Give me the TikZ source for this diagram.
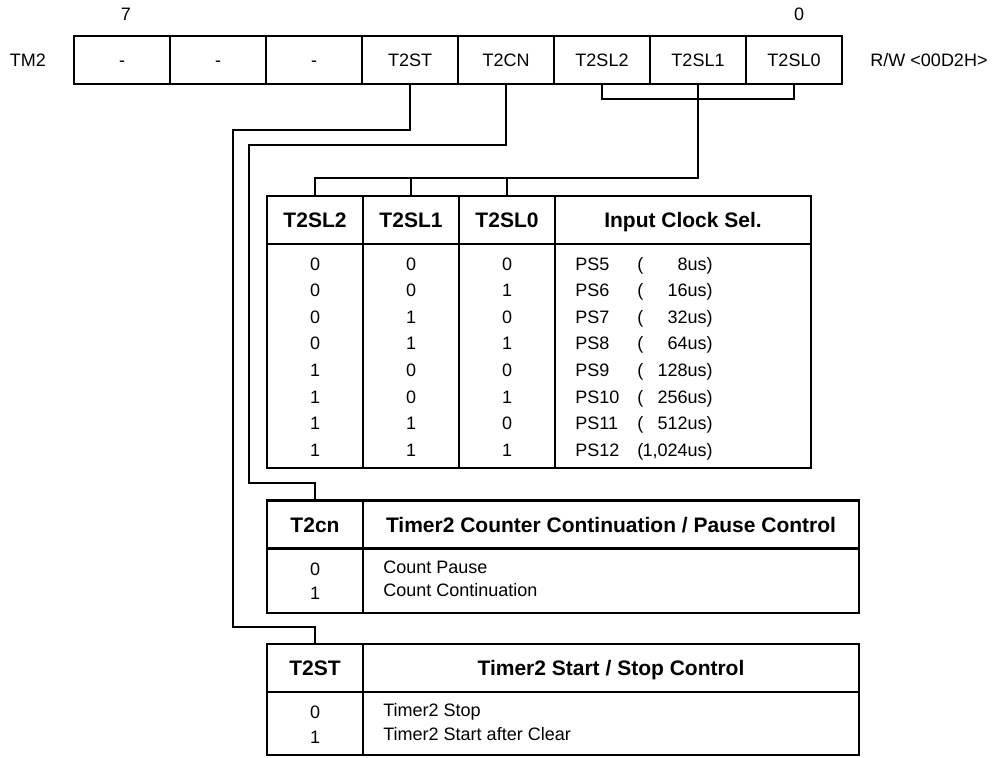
\documentclass[tikz,border=0pt]{standalone}
\usepackage{fontspec}
\setmainfont{Liberation Sans}
\usepackage{tikz}
\tikzset{
  cella/.style={draw, line width=1pt, minimum width=48pt, minimum height=24pt,
    inner sep=0pt, text height=6.4pt, text depth=0pt, font=\fontsize{9}{11}\selectfont},
  testa/.style={draw, line width=1.3pt, minimum height=24pt, inner sep=0pt,
    text height=7.5pt, text depth=0pt, font=\fontsize{10.5}{12}\selectfont\bfseries},
  corpo/.style={draw, line width=1.3pt, inner sep=0pt},
  voce/.style={inner sep=0pt, font=\fontsize{9}{11}\selectfont},
  filo/.style={line width=1pt}
}

\begin{document}
\begin{tikzpicture}[x=0.5pt, y=-0.5pt]
        \useasboundingbox (0,0) rectangle (994,757);
        \def\w{96}
        % Registro TM2
        \foreach \t [count=\i from 0] in {-,-,-,T2ST,T2CN,T2SL2,T2SL1,T2SL0}
        \node[cella] (r\i) at (122+\w*\i,60) {\t};
        \node[voce] (bit7) at (126,14) {7};
        \node[voce] (bit0) at (799,14) {0};
        \node[voce] (nome) at (28,60) {TM2};
        \node[voce] (indir) at (929,60) {R/W <00D2H>};
        % Tabella selezione clock
        \foreach \t [count=\i] in {T2SL2,T2SL1,T2SL0} {
          \node[testa, minimum width=48pt] (ha\i) at (219+\w*\i,220) {\t};
          \node[corpo, minimum width=48pt, minimum height=112pt] (ca\i) at (219+\w*\i,356) {};
        }
        \node[testa, minimum width=128pt] (ha4) at (683,220) {Input Clock Sel.};
        \node[corpo, minimum width=128pt, minimum height=112pt] (ca4) at (683,356) {};
        \foreach \p/\q/\s/\ps/\t [count=\r from 0] in {0/0/0/PS5/8us, 0/0/1/PS6/16us,
            0/1/0/PS7/32us, 0/1/1/PS8/64us, 1/0/0/PS9/128us, 1/0/1/PS10/256us,
            1/1/0/PS11/512us, 1/1/1/PS12/{1,024us}} {
          \node[voce, anchor=base] (va\r) at (315,270+26.6*\r) {\p};
          \node[voce, anchor=base] (vb\r) at (411,270+26.6*\r) {\q};
          \node[voce, anchor=base] (vc\r) at (507,270+26.6*\r) {\s};
          \node[voce, anchor=base west] (vd\r) at (575,270+26.6*\r) {\ps};
          \node[voce, anchor=base west] (ve\r) at (637,270+26.6*\r) {(};
          \node[voce, anchor=base east] (vf\r) at (713,270+26.6*\r) {\t)};
        }
        % Tabella T2cn
        \node[testa, minimum width=48pt] (hb1) at (315,524.5) {T2cn};
        \node[testa, minimum width=248pt] (hb2) at (611,524.5) {Timer2 Counter Continuation / Pause Control};
        \node[corpo, minimum width=48pt, minimum height=32.5pt] (cb1) at (315,580.5) {};
        \node[corpo, minimum width=248pt, minimum height=32.5pt] (cb2) at (611,580.5) {};
        \node[voce, anchor=base] (wa0) at (315,575) {0};
        \node[voce, anchor=base] (wa1) at (315,599) {1};
        \node[voce, anchor=base west] (wb0) at (383,573) {Count Pause};
        \node[voce, anchor=base west] (wb1) at (383,596) {Count Continuation};
        % Tabella T2ST
        \node[testa, minimum width=48pt] (hc1) at (315,668) {T2ST};
        \node[testa, minimum width=248pt] (hc2) at (611,668) {Timer2 Start / Stop Control};
        \node[corpo, minimum width=48pt, minimum height=31.5pt] (cc1) at (315,723.5) {};
        \node[corpo, minimum width=248pt, minimum height=31.5pt] (cc2) at (611,723.5) {};
        \node[voce, anchor=base] (xa0) at (315,718) {0};
        \node[voce, anchor=base] (xa1) at (315,743) {1};
        \node[voce, anchor=base west] (xb0) at (383,716) {Timer2 Stop};
        \node[voce, anchor=base west] (xb1) at (383,740) {Timer2 Start after Clear};
        % Collegamenti
        \coordinate (stgomito) at (233,130);
        \coordinate (stbasso) at (233,627);
        \coordinate (cngomito) at (249,145);
        \coordinate (cnbasso) at (249,483);
        \coordinate (slbus) at (315,178);
        \draw[filo] (r3.south) |- (stgomito) -- (stbasso) -| (hc1.north);
        \draw[filo] (r4.south) |- (cngomito) -- (cnbasso) -| (hb1.north);
        \draw[filo] (r5.south) -- ++(0,14) -| (r7.south);
        \draw[filo] (r6.south) |- (slbus) -- (ha1.north);
        \draw[filo] (ha2.north) -- (ha2.north |- slbus);
        \draw[filo] (ha3.north) -- (ha3.north |- slbus);
    \end{tikzpicture}
\end{document}
